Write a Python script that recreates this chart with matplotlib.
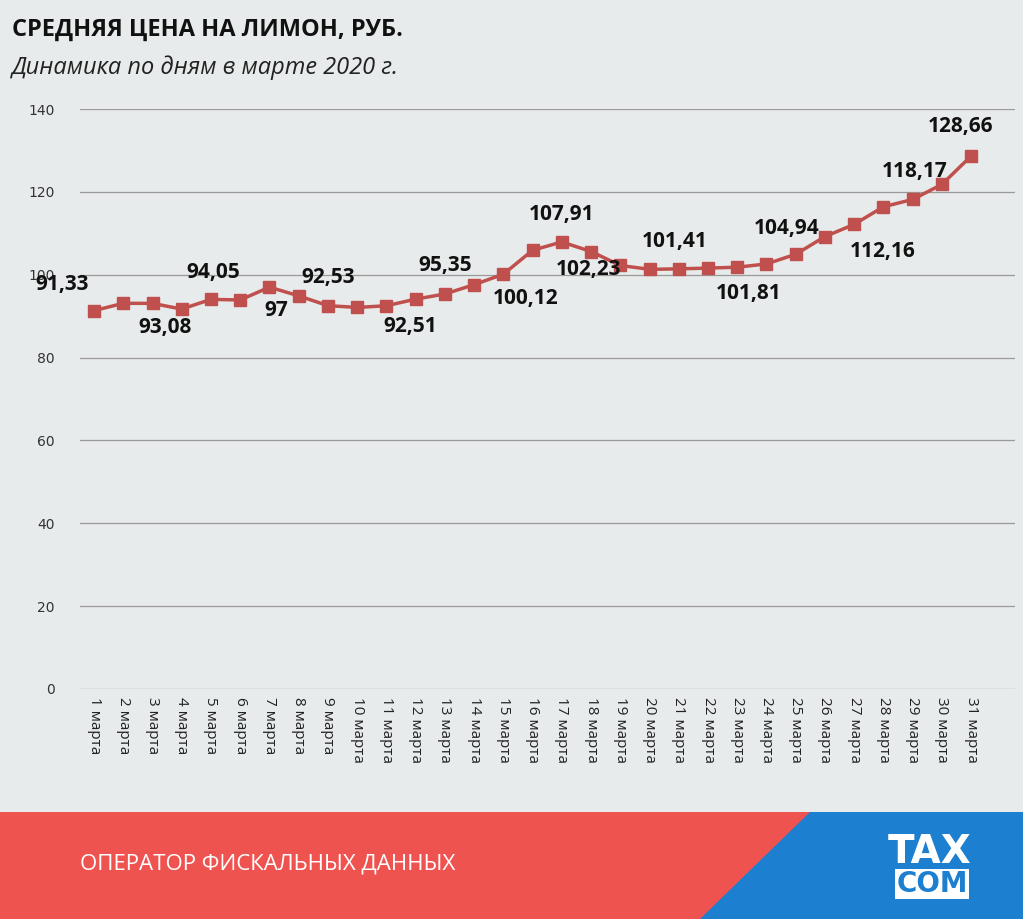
import matplotlib
matplotlib.use("Agg")
import matplotlib.pyplot as plt
from matplotlib.patches import Polygon, Rectangle

days = [f"{i} марта" for i in range(1, 32)]
prices = [91.33, 93.1, 93.08, 91.7, 94.05, 93.9, 97.0, 94.9, 92.53, 92.1, 92.51,
          94.1, 95.35, 97.6, 100.12, 105.9, 107.91, 105.6, 102.23, 101.3, 101.41,
          101.6, 101.81, 102.6, 104.94, 109.2, 112.16, 116.4, 118.17, 121.8, 128.66]
label_text = {1: "91,33", 3: "93,08", 5: "94,05", 7: "97", 9: "92,53", 11: "92,51",
              13: "95,35", 15: "100,12", 17: "107,91", 19: "102,23", 21: "101,41",
              23: "101,81", 25: "104,94", 27: "112,16", 29: "118,17", 31: "128,66"}
label_off = {1: (-32, 26), 3: (13, -24), 5: (2, 27), 7: (7, -23), 9: (0, 28),
             11: (24, -21), 13: (0, 28), 15: (22, -24), 17: (0, 27), 19: (-32, -4),
             21: (-4, 27), 23: (11, -26), 25: (-9, 26), 27: (28, -27), 29: (2, 28),
             31: (-11, 29)}

W, H = 1023, 919
fig = plt.figure(figsize=(W / 100, H / 100), dpi=100)
fig.patch.set_facecolor("#e8ebeb")

ax = fig.add_axes([80 / W, 1 - 689 / H, 935 / W, 580 / H])
ax.set_facecolor("#e8ebeb")
x = list(range(1, 32))
ax.plot(x, prices, color="#c0504d", lw=2.5, marker="s", ms=9, zorder=3)
for k, t in label_text.items():
    ax.annotate(t, (k, prices[k - 1]), xytext=label_off[k], textcoords="offset pixels",
                ha="center", va="center", fontsize=15, fontweight="bold",
                fontfamily="Open Sans", color="#111111", zorder=4)
ax.set_ylim(0, 140)
ax.set_yticks(range(0, 141, 20))
ax.set_xlim(0.52, 32.5)
ax.set_xticks(x)
ax.set_xticklabels(days, rotation=-90, fontsize=11, fontfamily="Open Sans", color="#222222")
ax.tick_params(axis="y", labelsize=10, colors="#333333", length=0, pad=18)
ax.tick_params(axis="x", length=0, pad=6)
for lab in ax.get_yticklabels():
    lab.set_horizontalalignment("right")
ax.grid(axis="y", color="#9a9a9a", lw=0.9)
ax.set_axisbelow(True)
for s in ax.spines.values():
    s.set_visible(False)

fig.text(12 / W, 1 - 30 / H, "СРЕДНЯЯ ЦЕНА НА ЛИМОН, РУБ.", fontsize=17, fontweight="bold",
         fontfamily="Open Sans", va="center", color="#111111")
fig.text(12 / W, 1 - 68 / H, "Динамика по дням в марте 2020 г.", fontsize=17, style="italic",
         fontfamily="Open Sans", va="center", color="#222222")

# bottom banner
fig.patches.append(Rectangle((0, 0), 1, 107 / H, transform=fig.transFigure,
                             facecolor="#ef5350", edgecolor="none"))
fig.patches.append(Polygon([(700 / W, 0), (810 / W, 107 / H), (1, 107 / H), (1, 0)],
                           closed=True, transform=fig.transFigure,
                           facecolor="#1c7fd0", edgecolor="none"))
fig.text(80 / W, 1 - 864 / H, "ОПЕРАТОР ФИСКАЛЬНЫХ ДАННЫХ", fontsize=16,
         fontfamily="Open Sans", color="white", va="center")
fig.text(930 / W, 1 - 852 / H, "TAX", fontsize=28, fontweight="bold", color="white",
         ha="center", va="center", fontfamily="DejaVu Sans")
fig.text(932 / W, 1 - 884 / H, "COM", fontsize=20, fontweight="bold", color="#1c7fd0",
         ha="center", va="center", fontfamily="DejaVu Sans",
         bbox=dict(facecolor="white", edgecolor="none", pad=1))

fig.savefig("out.png", dpi=100, facecolor=fig.get_facecolor())
